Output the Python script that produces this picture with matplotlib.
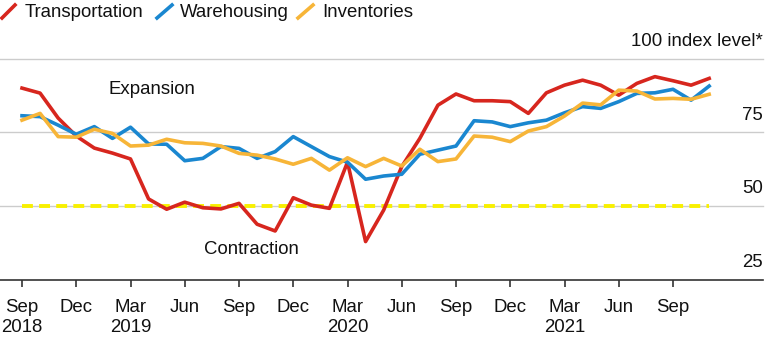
import matplotlib
matplotlib.use("Agg")
import matplotlib.pyplot as plt
from matplotlib.lines import Line2D

plt.rcParams['font.family'] = ['Liberation Sans', 'DejaVu Sans']

# Monthly index values, Sep 2018 .. Nov 2021
months = list(range(39))
transportation = [90.1, 88.4, 79.9, 73.8, 69.7, 68.0, 66.0, 52.4, 48.9, 51.3,
                  49.4, 49.0, 50.9, 43.8, 41.5, 52.8, 50.3, 49.2, 64.9, 37.9,
                  48.6, 63.4, 73.0, 84.3, 88.1, 85.8, 85.8, 85.5, 81.5, 88.5,
                  91.1, 92.8, 91.1, 87.7, 91.7, 94.0, 92.6, 91.1, 93.4]
warehousing = [80.7, 80.4, 77.5, 74.4, 77.0, 73.0, 76.8, 71.1, 71.0, 65.4,
               66.2, 70.2, 69.6, 66.2, 68.5, 73.6, 70.2, 66.8, 64.9, 59.1,
               60.2, 60.8, 67.6, 69.0, 70.4, 79.0, 78.6, 77.0, 78.3, 79.2,
               81.7, 83.8, 83.2, 85.5, 88.3, 88.5, 89.7, 86.0, 90.8]
inventories = [79.2, 81.5, 73.6, 73.4, 76.1, 74.7, 70.4, 70.7, 72.7, 71.5,
               71.3, 70.4, 67.9, 67.3, 66.0, 64.2, 66.2, 62.2, 66.4, 63.4,
               66.2, 63.6, 69.3, 65.1, 66.0, 73.8, 73.4, 71.9, 75.5, 77.0,
               80.6, 85.0, 84.4, 89.4, 89.1, 86.4, 86.6, 86.3, 88.0]
threshold = 50

tick_pos = list(range(0, 39, 3))
tick_labels = ["Sep\n2018", "Dec", "Mar\n2019", "Jun", "Sep", "Dec", "Mar\n2020",
               "Jun", "Sep", "Dec", "Mar\n2021", "Jun", "Sep"]
ytick_vals = [25, 50, 75, 100]
ytick_labels = ["25", "50", "75", "100 index level*"]

series_names = ["Transportation", "Warehousing", "Inventories"]
colors = ["#d7261e", "#1a87d0", "#f7b538"]

FS = 13.4
TXT = "#111111"

W, H = 771, 340
fig = plt.figure(figsize=(W / 100, H / 100), dpi=100)
ax_right = 763 / W
ax_bottom = (H - 279.5) / H
ax_top = (H - 59) / H
ax = fig.add_axes([0.0, ax_bottom, ax_right, ax_top - ax_bottom])

px_per_month = (673 - 22) / 36.0
ax.set_xlim(-22 / px_per_month, (763 - 22) / px_per_month)
ax.set_ylim(25, 100)

# grid lines
for v in [50, 75, 100]:
    ax.axhline(v, color="#cccccc", lw=1.0, zorder=1, clip_on=False)

# threshold dashed line
ax.plot([months[0], months[-1]], [threshold, threshold], color="#f8f000",
        lw=2.8, dashes=(2.8, 1.6), zorder=2, solid_capstyle='butt')

ax.plot(months, transportation, color=colors[0], lw=2.6, zorder=3)
ax.plot(months, warehousing, color=colors[1], lw=2.6, zorder=4)
ax.plot(months, inventories, color=colors[2], lw=2.6, zorder=5)

for s in ["top", "right", "left"]:
    ax.spines[s].set_visible(False)
ax.spines["bottom"].set_color("#333333")
ax.spines["bottom"].set_linewidth(1.2)

ax.set_yticks([])
ax.set_xticks(tick_pos)
ax.set_xticklabels(tick_labels, fontsize=FS, color=TXT, linespacing=1.2)
ax.tick_params(axis="x", length=5, width=1.2, color="#333333", pad=9)

for v, lab in zip(ytick_vals, ytick_labels):
    ax.annotate(lab, xy=(1.0, v), xycoords=("axes fraction", "data"),
                xytext=(0, 12.3), textcoords="offset points",
                ha="right", va="center", fontsize=FS, color=TXT)

ax.text((108 - 22) / px_per_month, 89.6, "Expansion", fontsize=FS,
        color=TXT, ha="left", va="center")
ax.text((204 - 22) / px_per_month, 35.3, "Contraction", fontsize=FS,
        color=TXT, ha="left", va="center")

# legend
icon_x = [(2, 15), (157, 172), (298, 313)]
text_x = [25, 180, 322]
for name, c, (x0, x1), tx in zip(series_names, colors, icon_x, text_x):
    fig.add_artist(Line2D([x0 / W, x1 / W], [1 - 18 / H, 1 - 5 / H],
                          color=c, lw=2.6, transform=fig.transFigure))
    fig.text(tx / W, 1 - 12.5 / H, name, fontsize=FS, color=TXT,
             ha="left", va="center")

fig.savefig("out.png", dpi=100)
